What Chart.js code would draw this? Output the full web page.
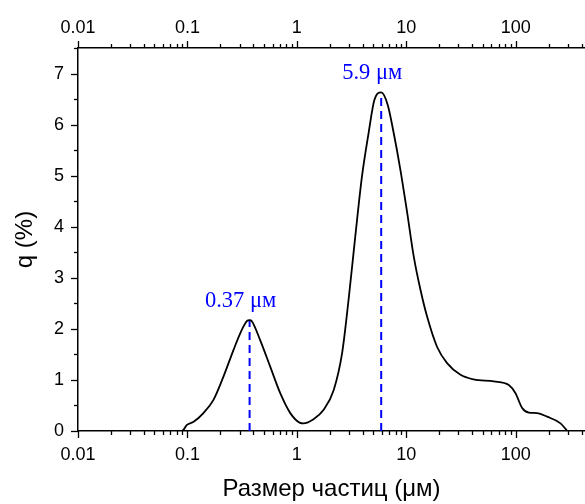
<!DOCTYPE html>
<html>
<head>
<meta charset="utf-8">
<script src="https://cdn.jsdelivr.net/npm/chart.js@4"></script>
<style>
  html, body { margin: 0; padding: 0; background: #fff; }
  #wrap { width: 585px; height: 504px; }
</style>
</head>
<body>
<div id="wrap"><canvas id="psd" width="585" height="504"></canvas></div>
<script>
// particle size (um) and distribution q (%)
const sizes = [0.01, 0.02, 0.05, 0.089, 0.099, 0.114, 0.14, 0.173, 0.213, 0.264, 0.314, 0.349, 0.37, 0.388,
  0.462, 0.571, 0.705, 0.871, 1.07, 1.15, 1.42, 1.75, 2.17, 2.59, 2.97, 3.42, 3.94, 4.53, 5.11, 5.9, 6.76,
  7.67, 8.83, 10.2, 11.7, 13.5, 15.5, 19.1, 23.6, 31.3, 41.4, 63.1, 86.5, 99.6, 114.6, 132, 157, 194, 257, 296];
const qValues = [0, 0, 0, 0, 0.12, 0.18, 0.35, 0.61, 1.06, 1.59, 1.98, 2.15, 2.17, 2.15,
  1.78, 1.26, 0.74, 0.35, 0.16, 0.15, 0.23, 0.41, 0.80, 1.52, 2.57, 3.81, 4.99, 5.84, 6.48, 6.63, 6.39,
  5.84, 5.12, 4.27, 3.42, 2.76, 2.24, 1.65, 1.33, 1.10, 1.01, 0.97, 0.90, 0.74, 0.45, 0.36, 0.35, 0.28, 0.15, 0];

// peaks marked with dashed lines
const peakSizes = [0.37, 5.9];
const peakHeights = [2.17, 6.63];
const peakLabels = ['0.37 \u03bc\u043c', '5.9 \u03bc\u043c'];

const xMin = 0.01, xMax = 430, yMin = 0, yMax = 7.5;

// axis ticks
const xDecades = [0.01, 0.1, 1, 10, 100];
const xTickValues = [];
xDecades.forEach(d => {
  for (let m = 1; m <= 9; m++) {
    const v = +(d * m).toPrecision(3);
    if (v <= xMax) xTickValues.push(v);
  }
});
const yTickValues = [0, 0.5, 1, 1.5, 2, 2.5, 3, 3.5, 4, 4.5, 5, 5.5, 6, 6.5, 7, 7.5];

const tickFont = { family: 'Liberation Sans', size: 18 };
const titleFont = { family: 'Liberation Sans', size: 24 };
const ink = '#000';
const blue = 'rgb(0,0,255)';

function xTicks(scale) {
  scale.ticks = xTickValues.map(v => ({ value: v, major: xDecades.includes(v) }));
}
function xLabel(v) {
  return xDecades.includes(v) ? String(v) : '';
}

// tick marks drawn outward, long for labelled ticks and short for the rest
const tickMarks = {
  id: 'tickMarks',
  afterDraw(chart) {
    const ctx = chart.ctx;
    ctx.save();
    ctx.strokeStyle = ink;
    ctx.lineWidth = 1.3;
    const sx = chart.scales.x, st = chart.scales.xTop, sy = chart.scales.y;
    xTickValues.forEach(v => {
      const px = Math.round(sx.getPixelForValue(v)) + 0.5;
      const len = xDecades.includes(v) ? 7 : 4;
      ctx.beginPath();
      ctx.moveTo(px, sx.top); ctx.lineTo(px, sx.top + len);
      ctx.moveTo(px, st.bottom); ctx.lineTo(px, st.bottom - len);
      ctx.stroke();
    });
    yTickValues.forEach(v => {
      const py = Math.round(sy.getPixelForValue(v)) + 0.5;
      const len = Number.isInteger(v) ? 7 : 4;
      ctx.beginPath();
      ctx.moveTo(sy.right, py); ctx.lineTo(sy.right - len, py);
      ctx.stroke();
    });
    ctx.restore();
  }
};

// peak captions above the dashed lines
const peakCaptions = {
  id: 'peakCaptions',
  afterDatasetsDraw(chart) {
    const ctx = chart.ctx;
    const sx = chart.scales.x, sy = chart.scales.y;
    ctx.save();
    ctx.fillStyle = blue;
    ctx.font = '22.5px "Liberation Serif"';
    ctx.textAlign = 'center';
    ctx.textBaseline = 'middle';
    peakSizes.forEach((s, i) => {
      ctx.fillText(peakLabels[i], sx.getPixelForValue(s) - 9, sy.getPixelForValue(peakHeights[i]) - 19);
    });
    ctx.restore();
  }
};

const datasets = [{
  data: sizes.map((s, i) => ({ x: s, y: qValues[i] })),
  borderColor: ink,
  borderWidth: 1.8,
  pointRadius: 0,
  cubicInterpolationMode: 'monotone',
  fill: false
}];
peakSizes.forEach((s, i) => {
  datasets.push({
    data: [{ x: s, y: 0 }, { x: s, y: peakHeights[i] }],
    borderColor: blue,
    borderWidth: 2,
    borderDash: [8, 5],
    pointRadius: 0,
    fill: false
  });
});

new Chart(document.getElementById('psd'), {
  type: 'line',
  data: { datasets },
  options: {
    responsive: false,
    animation: false,
    layout: { padding: 0 },
    plugins: { legend: { display: false }, tooltip: { enabled: false } },
    scales: {
      x: {
        type: 'logarithmic', position: 'bottom', min: xMin, max: xMax,
        afterBuildTicks: xTicks,
        afterFit: s => { s.height = 73; s.paddingRight = 0; },
        grid: { display: false, drawTicks: true, tickLength: 7 },
        border: { display: true, color: ink, width: 1.5 },
        ticks: { autoSkip: false, maxRotation: 0, padding: 6, color: ink, font: tickFont, callback: xLabel },
        title: { display: true, text: 'Размер частиц (\u03bcм)', color: ink,
          font: titleFont, padding: { top: 0, bottom: 0 } }
      },
      xTop: {
        type: 'logarithmic', position: 'top', min: xMin, max: xMax,
        afterBuildTicks: xTicks,
        afterFit: s => { s.height = 48; s.paddingRight = 0; },
        grid: { display: false, drawTicks: true, tickLength: 7 },
        border: { display: true, color: ink, width: 1.5 },
        ticks: { autoSkip: false, maxRotation: 0, padding: 2, color: ink, font: tickFont, callback: xLabel }
      },
      y: {
        type: 'linear', position: 'left', min: yMin, max: yMax,
        afterBuildTicks: s => { s.ticks = yTickValues.map(v => ({ value: v })); },
        afterFit: s => { s.width = 78; },
        grid: { display: false, drawTicks: true, tickLength: 7 },
        border: { display: true, color: ink, width: 1.5 },
        ticks: { padding: 7, color: ink, font: tickFont,
          callback: v => Number.isInteger(v) ? String(v) : '' },
        title: { display: true, text: 'q (%)', color: ink,
          font: titleFont, padding: { top: 11, bottom: 0 } }
      }
    }
  },
  plugins: [tickMarks, peakCaptions]
});
</script>
</body>
</html>
